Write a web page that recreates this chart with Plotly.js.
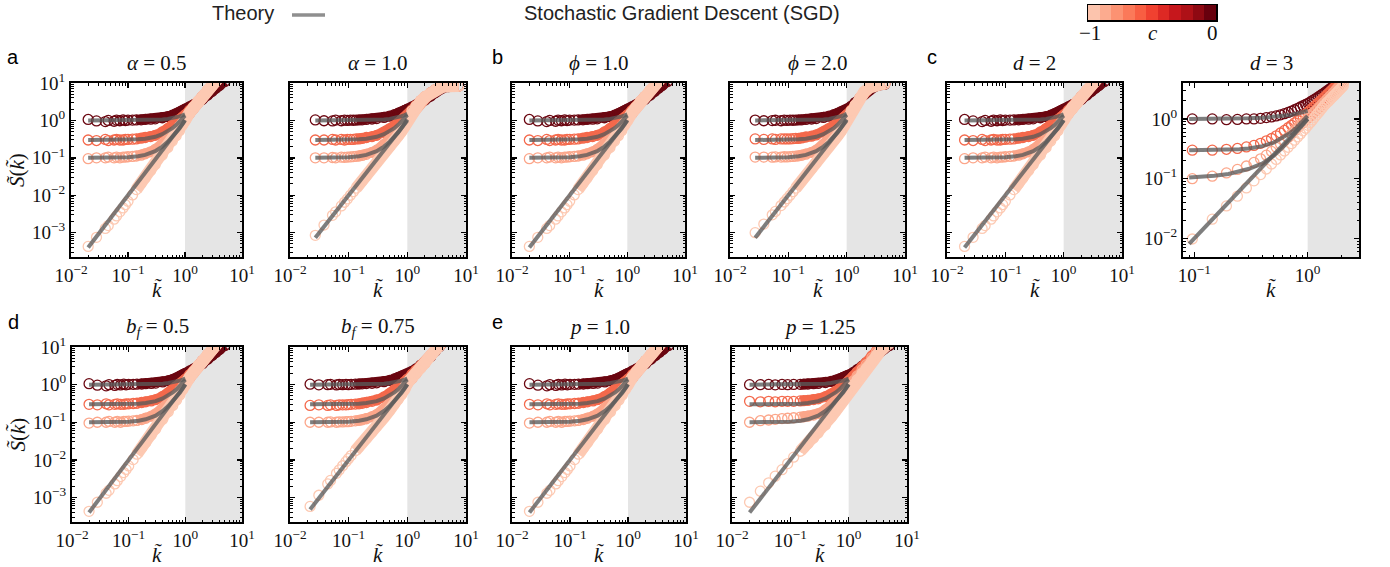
<!DOCTYPE html>
<html><head><meta charset="utf-8">
<script src="https://cdn.plot.ly/plotly-3.0.1.min.js"></script>
<style>html,body{margin:0;padding:0;background:#fff;}#chart{width:1390px;height:567px;}</style>
</head><body><div id="chart"></div>
<script>
// ---------------- DATA ----------------
// colour scale c in [-1, 0]
const CB_LEVELS = [-1, -0.9, -0.8, -0.7, -0.6, -0.5, -0.4, -0.3, -0.2, -0.1, 0];
const CB_COLORS = ['#fcc4ad','#fcab8f','#fc9272','#fb7959','#f85e42','#f04130','#dd2924','#c6171c','#ae1117','#8e0912','#67000d'];
const C_VALUES = [0, -0.7, -0.9, -1];
const SERIES_COLORS = ['#6b0711', '#f4694c', '#fca68a', '#fdc9b2'];

// default parameter set (alpha=0.5, phi=1, d=2, b_f=0.5, p=1)
const K_A  = [0.02,0.028,0.04,0.045,0.057,0.063,0.072,0.082,0.09,0.1,0.12,0.14,0.17,0.2,0.25,0.3,0.4,0.5,0.6,0.7,0.8,0.9,1.0,1.2,1.4,1.7,2.0,2.5,3.0,3.5,4.0,5.0];
const S_A0 = [1.06,0.97,0.93,1.0,0.95,1.02,0.98,1.03,0.99,1.02,1.02,1.03,1.04,1.06,1.08,1.1,1.18,1.27,1.38,1.52,1.67,1.83,2.0,2.3,2.6,3.1,3.6,4.8,6.0,7.3,8.6,11];
const S_A1 = [0.30,0.29,0.31,0.29,0.30,0.31,0.30,0.30,0.31,0.31,0.315,0.32,0.335,0.35,0.37,0.4,0.49,0.6,0.74,0.9,1.06,1.22,1.4,1.85,2.3,3.2,4.3,6.4,8.8,11.5,14,20];
const S_A2 = [0.095,0.1,0.1,0.105,0.1,0.105,0.1,0.105,0.105,0.107,0.109,0.112,0.118,0.128,0.145,0.168,0.235,0.32,0.42,0.55,0.7,0.87,1.05,1.5,2.05,3.0,4.0,6.1,8.5,11.2,14,20];
const S_A3 = [0.00043,0.00075,0.0013,0.00155,0.0023,0.0028,0.0036,0.0046,0.0056,0.0069,0.0102,0.0142,0.021,0.029,0.046,0.066,0.12,0.19,0.28,0.39,0.53,0.74,1.0,1.6,2.25,3.3,4.3,6.5,9.0,12,15,22];
const KT_A = [0.02,0.03,0.05,0.07,0.1,0.15,0.2,0.3,0.4,0.5,0.6,0.7,0.8,0.9,1.0];
const T_A0 = [1,1,1,1,1,1.005,1.01,1.03,1.06,1.1,1.15,1.21,1.28,1.36,1.45];
const T_A1 = [0.3,0.3,0.3,0.301,0.304,0.312,0.325,0.365,0.43,0.51,0.62,0.75,0.91,1.11,1.35];
const T_A2 = [0.1,0.1,0.1,0.101,0.104,0.11,0.12,0.15,0.2,0.27,0.36,0.47,0.61,0.79,1.03];
const T_A3 = [0.0004,0.0009,0.0025,0.0049,0.01,0.0225,0.04,0.09,0.16,0.25,0.36,0.49,0.64,0.81,1.0];

// alpha = 1.0
const K_B  = [0.027,0.038,0.053,0.06,0.075,0.085,0.095,0.107,0.12,0.134,0.15,0.17,0.2,0.25,0.3,0.4,0.5,0.6,0.7,0.8,0.9,1.0,1.2,1.4,1.7,2.0,2.5,3.0,3.5,4.0,5.0,6.0,7.5];
const S_B0 = [1.03,0.98,0.97,1.02,0.98,1.02,1.0,1.02,1.01,1.02,1.03,1.04,1.06,1.09,1.12,1.2,1.3,1.42,1.56,1.7,1.85,2.0,2.3,2.6,3.0,3.5,4.5,5.6,6.6,7.3,8.0,8.3,8.4];
const S_B1 = [0.3,0.3,0.31,0.3,0.31,0.3,0.31,0.31,0.31,0.32,0.32,0.33,0.35,0.37,0.4,0.48,0.59,0.72,0.87,1.03,1.2,1.4,1.9,2.5,3.4,4.3,5.5,6.6,7.4,7.9,8.2,8.3,8.3];
const S_B2 = [0.1,0.1,0.102,0.1,0.104,0.103,0.105,0.106,0.108,0.11,0.112,0.116,0.124,0.14,0.16,0.225,0.31,0.41,0.53,0.68,0.85,1.05,1.6,2.3,3.3,4.2,5.4,6.6,7.4,7.9,8.2,8.3,8.3];
const S_B3 = [0.00085,0.0016,0.0029,0.0036,0.0052,0.0065,0.008,0.01,0.0125,0.0155,0.019,0.0245,0.033,0.052,0.074,0.13,0.2,0.29,0.39,0.52,0.7,1.05,1.8,2.4,3.3,4.2,5.4,6.6,7.4,7.9,8.2,8.3,8.3];
const KT_B = [0.027,0.04,0.06,0.08,0.1,0.15,0.2,0.3,0.4,0.5,0.6,0.7,0.8,0.9,1.0];
const T_B0 = [1,1,1,1,1,1.005,1.01,1.03,1.06,1.1,1.15,1.22,1.3,1.39,1.5];
const T_B1 = [0.3,0.3,0.3,0.301,0.304,0.312,0.325,0.365,0.43,0.51,0.62,0.76,0.93,1.14,1.4];
const T_B2 = [0.1,0.1,0.1,0.101,0.104,0.11,0.12,0.15,0.2,0.27,0.36,0.48,0.63,0.82,1.06];
const T_B3 = [0.00073,0.0016,0.0036,0.0064,0.01,0.0225,0.04,0.09,0.16,0.25,0.36,0.49,0.64,0.81,1.0];

// phi = 2.0
const K_C  = [0.027,0.038,0.053,0.06,0.075,0.085,0.095,0.107,0.12,0.134,0.15,0.17,0.2,0.25,0.3,0.4,0.5,0.6,0.7,0.8,0.9,1.0,1.2,1.4,1.7,2.0,2.5,3.0,3.5,4.0,4.5];
const S_C0 = [1.02,0.98,0.99,1.01,0.98,1.02,1.0,1.02,1.01,1.02,1.03,1.04,1.06,1.09,1.12,1.2,1.3,1.42,1.55,1.68,1.8,1.9,2.4,3.0,4.0,5.0,6.6,7.9,8.7,9.1,9.3];
const S_C1 = [0.32,0.31,0.32,0.31,0.32,0.32,0.32,0.32,0.325,0.33,0.33,0.34,0.36,0.38,0.41,0.49,0.6,0.73,0.88,1.04,1.2,1.38,1.9,2.6,4.0,5.6,7.5,8.7,9.2,9.4,9.5];
const S_C2 = [0.105,0.105,0.104,0.106,0.105,0.107,0.106,0.108,0.109,0.111,0.113,0.117,0.125,0.14,0.16,0.225,0.31,0.41,0.53,0.68,0.85,1.05,1.75,2.5,4.0,5.7,7.6,8.7,9.2,9.4,9.5];
const S_C3 = [0.001,0.0017,0.003,0.0037,0.0053,0.0066,0.0081,0.01,0.0125,0.0155,0.019,0.0245,0.033,0.052,0.074,0.13,0.2,0.29,0.39,0.52,0.72,1.05,1.8,2.6,4.1,5.8,7.6,8.7,9.2,9.4,9.5];

// d = 3
const K_3  = [0.096,0.144,0.192,0.24,0.288,0.336,0.384,0.432,0.48,0.528,0.576,0.624,0.672,0.72,0.768,0.816,0.864,0.912,0.96,1.008,1.056,1.104,1.152,1.2,1.248,1.296,1.344,1.392,1.44,1.488,1.536,1.584,1.632,1.68,1.728,1.776,1.824,1.872,1.92,1.968,2.016,2.064];
const S_30 = [1.0,1.0,0.97,0.98,1.0,1.0,1.02,1.05,1.08,1.12,1.17,1.22,1.28,1.35,1.42,1.5,1.58,1.66,1.74,1.82,1.92,2.02,2.12,2.23,2.34,2.45,2.57,2.69,2.81,2.94,3.07,3.2,3.33,3.47,3.61,3.75,3.9,4.05,4.2,4.35,4.5,4.65];
const S_31 = [0.3,0.3,0.31,0.32,0.34,0.36,0.39,0.43,0.47,0.52,0.58,0.64,0.71,0.78,0.86,0.94,1.02,1.11,1.2,1.3,1.4,1.51,1.62,1.74,1.86,1.99,2.12,2.26,2.4,2.55,2.7,2.86,3.02,3.19,3.36,3.54,3.72,3.91,4.1,4.3,4.5,4.7];
const S_32 = [0.1,0.11,0.125,0.143,0.163,0.187,0.215,0.247,0.285,0.335,0.38,0.43,0.49,0.56,0.63,0.71,0.79,0.87,0.95,1.03,1.12,1.21,1.31,1.41,1.52,1.63,1.75,1.87,2.0,2.13,2.27,2.41,2.56,2.71,2.87,3.03,3.2,3.37,3.55,3.73,3.92,4.11];
const S_33 = [0.0098,0.021,0.035,0.051,0.07,0.092,0.117,0.145,0.176,0.21,0.25,0.29,0.335,0.385,0.44,0.5,0.56,0.63,0.7,0.78,0.87,0.96,1.06,1.17,1.28,1.4,1.52,1.65,1.78,1.9,2.0,2.12,2.25,2.38,2.52,2.66,2.8,2.95,3.1,3.26,3.42,3.58];
const KT_3 = [0.09,0.12,0.15,0.2,0.25,0.3,0.4,0.5,0.6,0.7,0.8,0.9,1.0];
const T_30 = [1,1,1,1.0,1.01,1.02,1.04,1.07,1.11,1.16,1.22,1.29,1.37];
const T_31 = [0.3,0.3,0.302,0.305,0.31,0.32,0.35,0.4,0.48,0.58,0.72,0.9,1.12];
const T_32 = [0.105,0.108,0.112,0.12,0.132,0.145,0.18,0.24,0.33,0.45,0.6,0.78,1.0];
const T_33 = [0.0081,0.0144,0.0225,0.04,0.0625,0.09,0.16,0.25,0.36,0.49,0.64,0.81,1.0];

// b_f = 0.75
const K_D  = [0.022,0.031,0.044,0.049,0.062,0.069,0.079,0.09,0.099,0.11,0.13,0.15,0.17,0.2,0.25,0.3,0.4,0.5,0.6,0.7,0.8,0.9,1.0,1.2,1.4,1.7,2.0,2.5,3.0,3.5,4.0];
const S_D0 = [1.03,0.99,1.0,1.02,0.98,1.01,1.0,1.02,1.0,1.02,1.03,1.04,1.05,1.07,1.09,1.12,1.2,1.3,1.42,1.55,1.68,1.8,1.9,2.2,2.6,3.3,4.0,5.6,7.8,10.2,13];
const S_D1 = [0.28,0.29,0.28,0.29,0.28,0.29,0.29,0.29,0.295,0.3,0.305,0.31,0.32,0.335,0.36,0.39,0.47,0.58,0.71,0.86,1.02,1.2,1.4,1.9,2.4,3.1,4.0,5.8,8.2,10.5,13.5];
const S_D2 = [0.1,0.1,0.1,0.102,0.1,0.103,0.102,0.104,0.104,0.106,0.109,0.112,0.116,0.124,0.14,0.16,0.225,0.31,0.41,0.53,0.68,0.85,1.05,1.45,1.95,2.8,3.7,5.9,8.5,11,14];
const S_D3 = [0.00058,0.00115,0.0023,0.00285,0.0044,0.0054,0.007,0.009,0.0108,0.013,0.0175,0.022,0.028,0.037,0.055,0.078,0.135,0.21,0.3,0.41,0.55,0.76,1.1,1.55,2.05,2.8,3.7,5.9,8.5,11,14];
const KT_D = [0.022,0.03,0.05,0.07,0.1,0.15,0.2,0.3,0.4,0.5,0.6,0.7,0.8,0.9,1.0];
const T_D3 = [0.00048,0.0009,0.0025,0.0049,0.01,0.0225,0.04,0.09,0.16,0.25,0.36,0.49,0.64,0.81,1.0];

// p = 1.25
const K_E  = [0.02,0.0306,0.0425,0.055,0.072,0.09,0.114,0.148,0.17,0.2,0.25,0.3,0.4,0.5,0.6,0.7,0.8,0.9,1.0,1.2,1.4,1.7,2.0,2.5,3.0,3.5,4.0,5.0];
const S_E0 = [1.0,1.0,1.01,0.99,1.01,1.0,1.01,1.02,1.03,1.04,1.06,1.08,1.14,1.22,1.32,1.43,1.55,1.68,1.8,2.1,2.5,3.1,3.8,5.0,6.2,7.5,8.8,11];
const S_E1 = [0.36,0.35,0.36,0.35,0.36,0.36,0.36,0.37,0.375,0.38,0.4,0.42,0.48,0.56,0.66,0.78,0.92,1.08,1.25,1.65,2.15,3.0,3.9,5.8,7.8,10,12.5,18];
const S_E2 = [0.1,0.11,0.115,0.12,0.125,0.128,0.132,0.137,0.14,0.145,0.155,0.17,0.215,0.28,0.36,0.46,0.58,0.72,0.88,1.25,1.7,2.5,3.4,5.2,7.3,9.6,12,17];
const S_E3 = [0.00075,0.00148,0.00246,0.0037,0.0055,0.008,0.0118,0.017,0.021,0.027,0.038,0.052,0.085,0.14,0.2,0.28,0.38,0.51,0.67,1.0,1.35,2.0,2.7,4.2,6.0,7.8,9.5,13];

// tick labels
const X_TICKS_2D = [0.01, 0.1, 1, 10];
const X_LABELS_2D = ['10<sup>−2</sup>','10<sup>−1</sup>','10<sup>0</sup>','10<sup>1</sup>'];
const Y_TICKS_2D = [0.001, 0.01, 0.1, 1, 10];
const Y_LABELS_2D = ['10<sup>−3</sup>','10<sup>−2</sup>','10<sup>−1</sup>','10<sup>0</sup>','10<sup>1</sup>'];
const X_TICKS_3D = [0.1, 1];
const X_LABELS_3D = ['10<sup>−1</sup>','10<sup>0</sup>'];
const Y_TICKS_3D = [0.01, 0.1, 1];
const Y_LABELS_3D = ['10<sup>−2</sup>','10<sup>−1</sup>','10<sup>0</sup>'];

const TITLES = ['<i>α</i> = 0.5','<i>α</i> = 1.0','<i>ϕ</i> = 1.0','<i>ϕ</i> = 2.0','<i>d</i> = 2','<i>d</i> = 3',
                '<i>b<sub>f</sub></i> = 0.5','<i>b<sub>f</sub></i> = 0.75','<i>p</i> = 1.0','<i>p</i> = 1.25'];
const LETTERS = ['a','b','c','d','e'];

// ---------------- FIGURE ----------------
const W = 1390, H = 567;
const SERIF = '"Liberation Serif", "DejaVu Serif", serif';
const SANS = '"Liberation Sans", Arial, sans-serif';

const DEF = {k:K_A, s:[S_A0,S_A1,S_A2,S_A3], kt:KT_A, t:[T_A0,T_A1,T_A2,T_A3]};
const PANELS = [
  Object.assign({}, DEF),
  {k:K_B, s:[S_B0,S_B1,S_B2,S_B3], kt:KT_B, t:[T_B0,T_B1,T_B2,T_B3]},
  Object.assign({}, DEF),
  {k:K_C, s:[S_C0,S_C1,S_C2,S_C3], kt:KT_B, t:[T_B0,T_B1,T_B2,T_B3]},
  Object.assign({}, DEF),
  {k:K_3, s:[S_30,S_31,S_32,S_33], kt:KT_3, t:[T_30,T_31,T_32,T_33], three:true},
  Object.assign({}, DEF),
  {k:K_D, s:[S_D0,S_D1,S_D2,S_D3], kt:KT_D, t:[T_A0,T_A1,T_A2,T_D3]},
  Object.assign({}, DEF),
  {k:K_E, s:[S_E0,S_E1,S_E2,S_E3], kt:KT_A, t:[T_A0,T_A1,T_A2,T_A3]}
];
// pixel boxes [left, right, top, bottom]
const BOX = [[71,242,83,257],[290,466,83,257],[512,685,83,257],[730,905,83,257],[947,1122,83,257],[1183,1359,83,257],
             [72,242,347,522],[290,466,347,522],[512,686,347,522],[732,907,347,522]];
const SHOW_Y = [true,false,false,false,false,true,true,false,false,false];
const LETTER_POS = [[13,57],[497,57],[932,57],[13,322],[497,322]];

function minorVals(r){
  const out=[];
  for(let e=Math.floor(r[0]); e<=Math.ceil(r[1]); e++){
    for(let m=2;m<=9;m++){ const v=m*Math.pow(10,e); const lv=Math.log10(v); if(lv>r[0]&&lv<r[1]) out.push(v); }
  }
  return out;
}

const traces=[], shapes=[], annotations=[];
const layout = {
  width:W, height:H, margin:{l:0,r:0,t:0,b:0}, paper_bgcolor:'#fff', plot_bgcolor:'#fff',
  showlegend:false, hovermode:false
};

PANELS.forEach((p,i)=>{
  const n=i+1, xa='x'+(n===1?'':n), ya='y'+(n===1?'':n);
  const b=BOX[i];
  const xr = p.three ? [-1.1, 0.453] : [-2, 1];
  const yr = p.three ? [-2.31, 0.6] : [-3.65, 1.0];
  const common = {
    type:'log', tickmode:'array', ticks:'inside', ticklen:5, tickwidth:1.5, tickcolor:'#000',
    showline:true, linecolor:'#000', linewidth:2, mirror:'ticks', showgrid:false, zeroline:false,
    tickfont:{family:SERIF, size:19, color:'#111'}
  };
  layout['xaxis'+(n===1?'':n)] = Object.assign({}, common, {
    domain:[b[0]/W, b[1]/W], range:xr, anchor:ya,
    tickvals: p.three?X_TICKS_3D:X_TICKS_2D, ticktext: p.three?X_LABELS_3D:X_LABELS_2D,
    minor:{ticks:'inside', ticklen:2.5, tickwidth:1, tickcolor:'#000', tickmode:'array', tickvals:minorVals(xr), showgrid:false}
  });
  layout['yaxis'+(n===1?'':n)] = Object.assign({}, common, {
    domain:[1-b[3]/H, 1-b[2]/H], range:yr, anchor:xa,
    tickvals: p.three?Y_TICKS_3D:Y_TICKS_2D, ticktext: p.three?Y_LABELS_3D:Y_LABELS_2D,
    showticklabels: SHOW_Y[i],
    minor:{ticks:'inside', ticklen:2.5, tickwidth:1, tickcolor:'#000', tickmode:'array', tickvals:minorVals(yr), showgrid:false}
  });
  // grey region k > 1
  shapes.push({type:'rect', xref:xa, yref:ya+' domain', x0:1, x1:Math.pow(10,xr[1]), y0:0, y1:1,
               fillcolor:'#e5e5e5', line:{width:0}, layer:'below'});
  // SGD series (dark first, lightest last)
  p.s.forEach((vals,j)=>{
    if(!p.three){
      const bk=[], bs=[];
      p.k.forEach((kv,m)=>{ if(kv>=0.13){ bk.push(kv); bs.push(vals[m]); } });
      traces.push({type:'scatter', x:bk, y:bs, xaxis:xa, yaxis:ya, mode:'lines',
                   line:{color:SERIES_COLORS[j], width: j===3?12:10}});
    }
    traces.push({type:'scatter', x:p.k, y:vals, xaxis:xa, yaxis:ya, mode:'markers',
                 marker:{symbol:'circle-open', size:10, color:SERIES_COLORS[j], line:{width:1.3}}});
  });
  // theory
  p.t.forEach(tv=>{
    traces.push({type:'scatter', x:p.kt, y:tv, xaxis:xa, yaxis:ya, mode:'lines',
                 line:{color:'rgba(90,90,90,0.78)', width:4}});
  });
  // title
  const cx=(b[0]+b[1])/2/W;
  annotations.push({xref:'paper', yref:'paper', x:cx, y:1-(b[2]-20)/H, xanchor:'center', yanchor:'middle',
                    text:TITLES[i], showarrow:false, font:{family:SERIF, size:21, color:'#111'}});
  annotations.push({xref:'paper', yref:'paper', x:cx, y:1-(b[3]+33)/H, xanchor:'center', yanchor:'middle',
                    text:'<i>k̃</i>', showarrow:false, font:{family:SERIF, size:21, color:'#111'}});
  if(i===0 || i===6){
    annotations.push({xref:'paper', yref:'paper', x:17/W, y:1-((b[2]+b[3])/2)/H, xanchor:'center', yanchor:'middle',
                      textangle:-90, text:'<i>S̃</i>(<i>k̃</i>)', showarrow:false, font:{family:SERIF, size:21, color:'#111'}});
  }
});

LETTERS.forEach((L,i)=>{
  annotations.push({xref:'paper', yref:'paper', x:LETTER_POS[i][0]/W, y:1-LETTER_POS[i][1]/H, xanchor:'center', yanchor:'middle',
                    text:L, showarrow:false, font:{family:SANS, size:20, color:'#000'}});
});

// top legend
annotations.push({xref:'paper', yref:'paper', x:210/W, y:1-13/H, xanchor:'left', yanchor:'middle',
                  text:'Theory', showarrow:false, font:{family:SANS, size:20, color:'#222'}});
shapes.push({type:'line', xref:'paper', yref:'paper', x0:292/W, x1:325/W, y0:1-15/H, y1:1-15/H,
             line:{color:'#8f8f8f', width:3.5}});
annotations.push({xref:'paper', yref:'paper', x:522/W, y:1-13/H, xanchor:'left', yanchor:'middle',
                  text:'Stochastic Gradient Descent (SGD)', showarrow:false, font:{family:SANS, size:20, color:'#222'}});

// colour bar
const cscale = CB_COLORS.map((c,i)=>[i/(CB_COLORS.length-1), c]);
traces.push({type:'heatmap', z:[CB_LEVELS], x:CB_LEVELS, y:[0], xaxis:'x11', yaxis:'y11',
             colorscale:cscale, zmin:-1, zmax:0, showscale:false, hoverinfo:'skip'});
layout.xaxis11 = {domain:[1088/W, 1216/W], range:[-1.05, 0.05], anchor:'y11', showline:true, mirror:true,
                  linecolor:'#000', linewidth:1.5, ticks:'', showticklabels:false, showgrid:false, zeroline:false};
layout.yaxis11 = {domain:[1-20/H, 1-5/H], range:[-0.5, 0.5], anchor:'x11', showline:true, mirror:true,
                  linecolor:'#000', linewidth:1.5, ticks:'', showticklabels:false, showgrid:false, zeroline:false};
annotations.push({xref:'paper', yref:'paper', x:1090/W, y:1-33/H, xanchor:'center', yanchor:'middle',
                  text:'−1', showarrow:false, font:{family:SERIF, size:21, color:'#111'}});
annotations.push({xref:'paper', yref:'paper', x:1153/W, y:1-33/H, xanchor:'center', yanchor:'middle',
                  text:'<i>c</i>', showarrow:false, font:{family:SERIF, size:21, color:'#111'}});
annotations.push({xref:'paper', yref:'paper', x:1212/W, y:1-33/H, xanchor:'center', yanchor:'middle',
                  text:'0', showarrow:false, font:{family:SERIF, size:21, color:'#111'}});

layout.shapes=shapes;
layout.annotations=annotations;
Plotly.newPlot('chart', traces, layout, {displayModeBar:false, staticPlot:true});
</script>
</body></html>
